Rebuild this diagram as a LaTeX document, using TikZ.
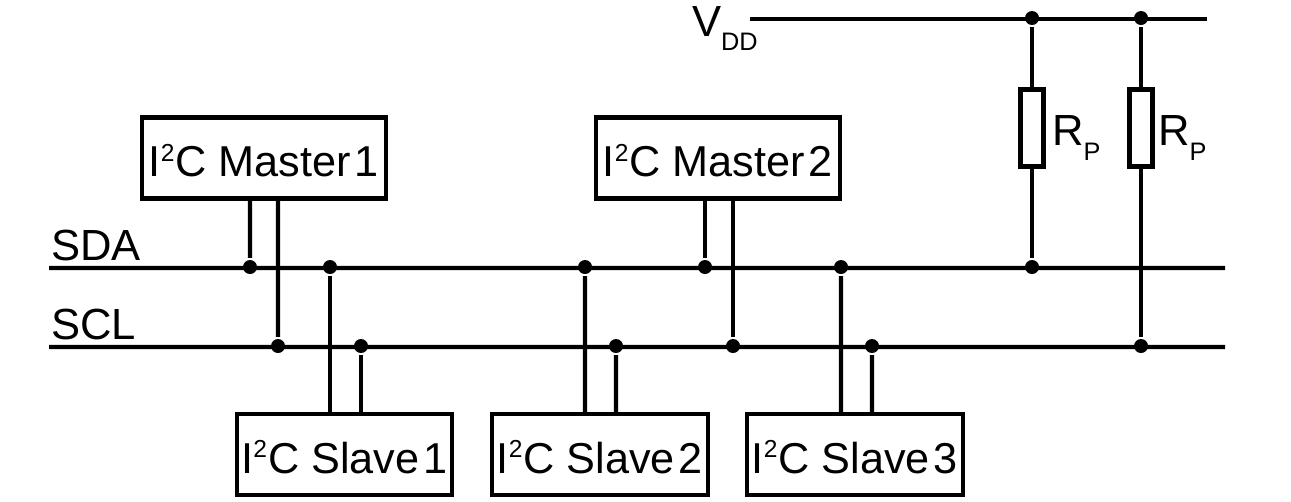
\documentclass[tikz,border=0pt]{standalone}
\usepackage{fontspec}
\usepackage{circuitikz}
\setmainfont{Liberation Sans}
\newcommand{\lowtext}[2]{\raisebox{#1}{\fontsize{7.2}{8}\selectfont #2}}
\newcommand{\iic}{I\raisebox{0.155cm}{\fontsize{7}{8}\selectfont 2}\kern0.01cm C}
\tikzset{
  busbox/.style={draw,inner sep=0pt,minimum height=0.81cm,text height=0.375cm,text depth=0pt},
  masterbox/.style={busbox,minimum width=2.445cm},
  slavebox/.style={busbox,minimum width=2.155cm},
  resbox/.style={draw,inner sep=0pt,minimum width=0.23cm,minimum height=0.77cm},
  jdot/.style={circle,fill,inner sep=0pt,minimum size=0.14cm,yshift=0.1mm},
  buslabel/.style={inner sep=0pt,anchor=base west,font=\fontsize{12.4}{14}\selectfont}
}
\begin{document}
\begin{tikzpicture}[line width=0.42mm,every node/.append style={font=\fontsize{12.3}{14}\selectfont}]
\useasboundingbox (0,0) rectangle (12.91,5.01);
% boxes
\node[masterbox] (master1) at (2.64,3.43) {\iic{} Master\kern0.04cm 1};
\node[masterbox] (master2) at (7.18,3.43) {\iic{} Master\kern0.04cm 2};
\node[slavebox] (slave1) at (3.445,0.465) {\iic{} Slave\kern0.04cm 1};
\node[slavebox] (slave2) at (6.00,0.465) {\iic{} Slave\kern0.04cm 2};
\node[slavebox] (slave3) at (8.55,0.465) {\iic{} Slave\kern0.04cm 3};
\node[resbox] (rp1) at (10.32,3.73) {};
\node[resbox] (rp2) at (11.41,3.73) {};
% rail ends
\coordinate (vddL) at (7.50,4.82);
\coordinate (vddR) at (12.07,4.82);
\coordinate (sdaL) at (0.49,2.33);
\coordinate (sdaR) at (12.25,2.33);
\coordinate (sclL) at (0.49,1.54);
\coordinate (sclR) at (12.25,1.54);
% junctions
\node[jdot] (vdd1) at (10.32,4.82) {};
\node[jdot] (vdd2) at (11.41,4.82) {};
\node[jdot] (sda1) at (2.50,2.33) {};
\node[jdot] (sda2) at (3.30,2.33) {};
\node[jdot] (sda3) at (5.85,2.33) {};
\node[jdot] (sda4) at (7.05,2.33) {};
\node[jdot] (sda5) at (8.41,2.33) {};
\node[jdot] (sda6) at (10.32,2.33) {};
\node[jdot] (scl1) at (2.78,1.54) {};
\node[jdot] (scl2) at (3.61,1.54) {};
\node[jdot] (scl3) at (6.16,1.54) {};
\node[jdot] (scl4) at (7.33,1.54) {};
\node[jdot] (scl5) at (8.72,1.54) {};
\node[jdot] (scl6) at (11.41,1.54) {};
% rails
\draw (vddL) to [short] (vddR);
\draw (sdaL) to [short] (sdaR);
\draw (sclL) to [short] (sclR);
% masters
\draw (sda1) to [short] (sda1 |- master1.south);
\draw (scl1) to [short] (scl1 |- master1.south);
\draw (sda4) to [short] (sda4 |- master2.south);
\draw (scl4) to [short] (scl4 |- master2.south);
% slaves
\draw (sda2) to [short] (sda2 |- slave1.north);
\draw (scl2) to [short] (scl2 |- slave1.north);
\draw (sda3) to [short] (sda3 |- slave2.north);
\draw (scl3) to [short] (scl3 |- slave2.north);
\draw (sda5) to [short] (sda5 |- slave3.north);
\draw (scl5) to [short] (scl5 |- slave3.north);
% pull-ups
\draw (vdd1) to [short] (rp1.north);
\draw (rp1.south) to [short] (sda6);
\draw (vdd2) to [short] (rp2.north);
\draw (rp2.south) to [short] (scl6);
% labels
\node[buslabel] (sdalabel) at (0.49,2.41) {SDA};
\node[buslabel] (scllabel) at (0.49,1.62) {SCL};
\node[buslabel] (vddlabel) at (6.90,4.65) {V\lowtext{-0.14cm}{DD}};
\node[buslabel] (rp1label) at (10.50,3.56) {R\lowtext{-0.15cm}{P}};
\node[buslabel] (rp2label) at (11.56,3.56) {R\lowtext{-0.15cm}{P}};
\end{tikzpicture}
\end{document}
